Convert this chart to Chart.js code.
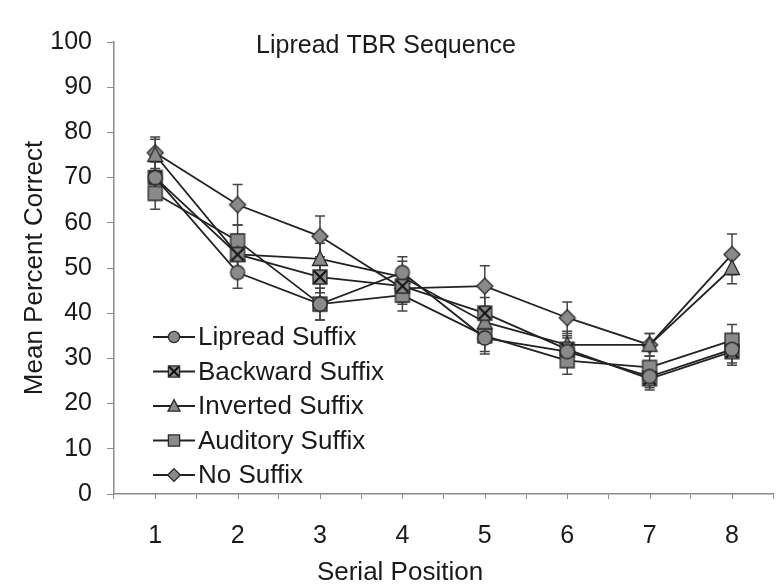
<!DOCTYPE html>
<html>
<head>
<meta charset="utf-8">
<script src="https://cdn.jsdelivr.net/npm/chart.js@4.4.0/dist/chart.umd.min.js"></script>
<style>
body{margin:0;background:#fff;}
#chartRoot{width:779px;height:587px;position:relative;}
</style>
</head>
<body>
<div id="chartRoot"><canvas id="myChart"></canvas></div>
<script>
// data
const positions = ['1', '2', '3', '4', '5', '6', '7', '8'];
const seriesNames = ['Lipread Suffix', 'Backward Suffix', 'Inverted Suffix', 'Auditory Suffix', 'No Suffix'];
const lipread   = [70, 49, 42, 49, 34.5, 31.5, 26, 32];
const backward  = [70, 53, 48, 46, 40, 32, 25.5, 31.5];
const inverted  = [75, 53, 52, 48, 38, 33, 33, 50];
const auditory  = [66.5, 56, 42, 44, 35, 29.5, 28, 34];
const noSuffix  = [75.5, 64, 57, 45.5, 46, 39, 33, 53];
const lipreadErr  = [3.5, 3.5, 3.5, 3.5, 3.5, 3, 2.5, 3];
const backwardErr = [3.5, 3.5, 3.5, 3.5, 3.5, 3, 2.5, 3];
const invertedErr = [3.5, 3.5, 3.5, 3.5, 3.5, 3, 2.5, 3.5];
const auditoryErr = [3.5, 3.5, 3.5, 3.5, 3.5, 3, 2.5, 3.5];
const noSuffixErr = [3.5, 4.5, 4.5, 3.5, 4.5, 3.5, 2.5, 4.5];
const yTicks = [0, 10, 20, 30, 40, 50, 60, 70, 80, 90, 100];

const FONT = '"Liberation Sans", Arial, sans-serif';
const TEXT = '#1a1a1a';
const AXIS = '#8c8c8c';

function drawShape(g, shape, cx, cy, s){
	s = s || 1;
	g.fillStyle = '#8a8a8a';
	g.strokeStyle = '#2a2a2a';
	g.lineWidth = 1.3;
	g.beginPath();
	if(shape == 'circle') g.arc(cx, cy, 7*s, 0, Math.PI*2);
	else if(shape == 'square' || shape == 'boxX') g.rect(cx-7*s, cy-7*s, 14*s, 14*s);
	else if(shape == 'triangle'){ g.moveTo(cx, cy-8*s); g.lineTo(cx+7.5*s, cy+6.5*s); g.lineTo(cx-7.5*s, cy+6.5*s); g.closePath(); }
	else if(shape == 'diamond'){ g.moveTo(cx, cy-8*s); g.lineTo(cx+8*s, cy); g.lineTo(cx, cy+8*s); g.lineTo(cx-8*s, cy); g.closePath(); }
	g.fill();
	g.stroke();
	if(shape == 'boxX'){
		g.beginPath();
		g.lineWidth = 2;
		g.strokeStyle = '#111';
		g.moveTo(cx-6*s, cy-6*s); g.lineTo(cx+6*s, cy+6*s);
		g.moveTo(cx+6*s, cy-6*s); g.lineTo(cx-6*s, cy+6*s);
		g.stroke();
	}
}

function makeMarker(shape){
	const c = document.createElement('canvas');
	c.width = 20; c.height = 20;
	drawShape(c.getContext('2d'), shape, 10, 10);
	return c;
}

const shapes = ['circle', 'boxX', 'triangle', 'square', 'diamond'];
const values = [lipread, backward, inverted, auditory, noSuffix];
const errors = [lipreadErr, backwardErr, invertedErr, auditoryErr, noSuffixErr];

const datasets = [];
for (let i = 0; i < seriesNames.length; i++) {
	datasets.push({
		label: seriesNames[i],
		data: values[i],
		errors: errors[i],
		shape: shapes[i],
		borderColor: '#222',
		borderWidth: 1.8,
		pointStyle: makeMarker(shapes[i]),
		tension: 0
	});
}

const errorBars = {
	id: 'errorBars',
	beforeDatasetsDraw(chart){
		const ctx = chart.ctx;
		const yScale = chart.scales.y;
		ctx.save();
		ctx.strokeStyle = '#444';
		ctx.lineWidth = 1.5;
		chart.data.datasets.forEach((ds, i) => {
			const meta = chart.getDatasetMeta(i);
			meta.data.forEach((pt, j) => {
				const top = yScale.getPixelForValue(ds.data[j] + ds.errors[j]);
				const bot = yScale.getPixelForValue(ds.data[j] - ds.errors[j]);
				ctx.beginPath();
				ctx.moveTo(pt.x, top); ctx.lineTo(pt.x, bot);
				ctx.moveTo(pt.x-5, top); ctx.lineTo(pt.x+5, top);
				ctx.moveTo(pt.x-5, bot); ctx.lineTo(pt.x+5, bot);
				ctx.stroke();
			});
		});
		ctx.restore();
	}
};

// title and legend sit inside the plot area, x title off-centre, small ticks at category centres
const extras = {
	id: 'extras',
	afterDraw(chart){
		const ctx = chart.ctx;
		const x = chart.scales.x;
		const area = chart.chartArea;
		ctx.save();
		ctx.strokeStyle = AXIS;
		ctx.lineWidth = 1;
		for (let i = 0; i < positions.length; i++) {
			const px = Math.round(x.getPixelForValue(i)) + 0.5;
			ctx.beginPath(); ctx.moveTo(px, x.top); ctx.lineTo(px, x.top + 5); ctx.stroke();
		}
		ctx.fillStyle = TEXT;
		ctx.textBaseline = 'middle';
		ctx.textAlign = 'center';
		ctx.font = '25px ' + FONT;
		ctx.fillText('Lipread TBR Sequence', 386, 46);
		ctx.font = '26px ' + FONT;
		ctx.fillText('Serial Position', 400, 573);

		// legend
		ctx.textAlign = 'left';
		const n = chart.data.datasets.length;
		chart.data.datasets.forEach((ds, i) => {
			const y = area.bottom - 19 - (n - 1 - i) * 34.5;
			const x0 = area.left + 39;
			ctx.strokeStyle = '#222';
			ctx.lineWidth = 2;
			ctx.beginPath(); ctx.moveTo(x0, y); ctx.lineTo(x0 + 42, y); ctx.stroke();
			drawShape(ctx, ds.shape, x0 + 21, y, 0.8);
			ctx.fillStyle = TEXT;
			ctx.font = '26px ' + FONT;
			ctx.fillText(ds.label, x0 + 45, y + 1);
		});
		ctx.restore();
	}
};

const ctx = document.getElementById('myChart');
const lineChart = new Chart(ctx, {
	type: 'line',
	data: {
		labels: positions,
		datasets: datasets
	},
	plugins: [errorBars, extras],
	options: {
		responsive: true,
		maintainAspectRatio: false,
		animation: false,
		layout: {
			padding: {left: 0, right: 2, top: 42, bottom: 0}
		},
		scales: {
			x: {
				offset: true,
				grid: {
					offset: true,
					drawOnChartArea: false,
					tickLength: 5,
					color: AXIS
				},
				border: {color: AXIS, width: 1.5},
				ticks: {
					color: TEXT,
					padding: 25,
					font: {family: FONT, size: 25, lineHeight: 1}
				},
				afterFit(scale){ scale.height = 93; }
			},
			y: {
				min: 0,
				max: 100,
				afterBuildTicks(scale){ scale.ticks = yTicks.map(v => ({value: v})); },
				grid: {
					drawOnChartArea: false,
					tickLength: 7,
					color: AXIS
				},
				border: {color: AXIS, width: 1.5},
				ticks: {
					color: TEXT,
					padding: 15,
					font: {family: FONT, size: 25}
				},
				title: {
					display: true,
					text: 'Mean Percent Correct',
					color: TEXT,
					padding: {top: 22, bottom: 0},
					font: {family: FONT, size: 26, lineHeight: 1}
				},
				afterFit(scale){ scale.width = 114; }
			}
		},
		plugins: {
			legend: {display: false},
			tooltip: {enabled: false}
		}
	}
});
</script>
</body>
</html>
